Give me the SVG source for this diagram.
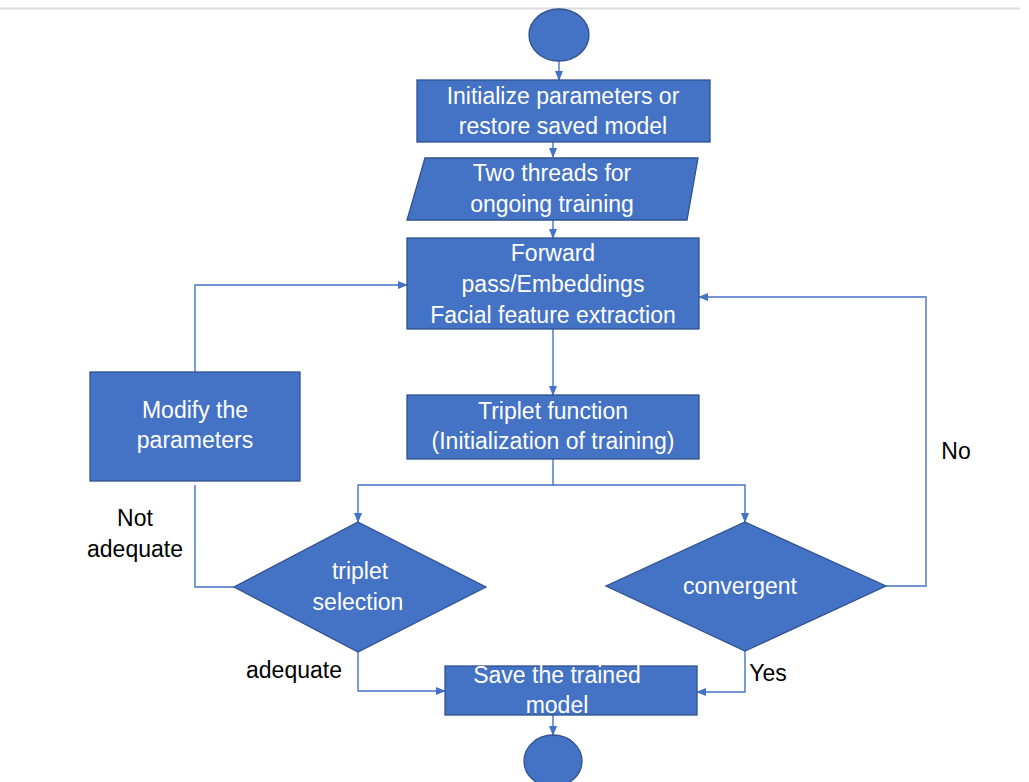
<svg xmlns="http://www.w3.org/2000/svg" width="1029" height="782" viewBox="0 0 1029 782">
<style>
.n{fill:#4472C4;stroke:#2F528F;stroke-width:1.3}
.t{font-family:"Liberation Sans",Arial,sans-serif;font-size:23px;fill:#fff;text-anchor:middle}
.l{font-family:"Liberation Sans",Arial,sans-serif;font-size:23px;fill:#000;text-anchor:middle}
.c{fill:none;stroke:#4472C4;stroke-width:1.4}
</style>
<defs>
<marker id="ah" markerWidth="10" markerHeight="8" refX="9" refY="4" orient="auto" markerUnits="userSpaceOnUse">
<path d="M0,0 L10,4 L0,8 Z" fill="#4472C4"/>
</marker>
</defs>
<rect width="1029" height="782" fill="#fff"/>
<line x1="0" y1="8.5" x2="1020" y2="8.5" stroke="#dcdcdc" stroke-width="2"/>
<g id="connectors">
<path class="c" d="M559,61 V80" marker-end="url(#ah)"/>
<path class="c" d="M553,142 V157" marker-end="url(#ah)"/>
<path class="c" d="M553,220 V238" marker-end="url(#ah)"/>
<path class="c" d="M553,329 V395" marker-end="url(#ah)"/>
<path class="c" d="M195,372 V285 H407" marker-end="url(#ah)"/>
<path class="c" d="M886,586 H926 V297 H699" marker-end="url(#ah)"/>
<path class="c" d="M553,459 V485 H358 V522" marker-end="url(#ah)"/>
<path class="c" d="M553,485 H745 V522" marker-end="url(#ah)"/>
<path class="c" d="M234,587 H195 V485"/>
<path class="c" d="M358,652 V691 H445" marker-end="url(#ah)"/>
<path class="c" d="M745,651 V692 H697" marker-end="url(#ah)"/>
<path class="c" d="M553,715 V735" marker-end="url(#ah)"/>
</g>
<g id="start"><ellipse class="n" cx="559" cy="35" rx="30" ry="26"/></g>
<g id="init">
<rect class="n" x="417" y="80" width="293" height="62"/>
<text class="t" x="563" y="104">Initialize parameters or</text>
<text class="t" x="563" y="134">restore saved model</text>
</g>
<g id="threads">
<polygon class="n" points="425,158 698,158 687,220 407,220"/>
<text class="t" x="552" y="181">Two threads for</text>
<text class="t" x="552" y="212">ongoing training</text>
</g>
<g id="forward">
<rect class="n" x="407" y="238" width="292" height="91"/>
<text class="t" x="553" y="261">Forward</text>
<text class="t" x="553" y="292">pass/Embeddings</text>
<text class="t" x="553" y="323">Facial feature extraction</text>
</g>
<g id="triplet-function">
<rect class="n" x="407" y="395" width="292" height="64"/>
<text class="t" x="553" y="419">Triplet function</text>
<text class="t" x="553" y="449">(Initialization of training)</text>
</g>
<g id="modify">
<rect class="n" x="90" y="372" width="210" height="109"/>
<text class="t" x="195" y="418">Modify the</text>
<text class="t" x="195" y="448">parameters</text>
</g>
<g id="triplet-selection">
<polygon class="n" points="358,522 486,587 358,652 234,587"/>
<text class="t" x="360" y="579">triplet</text>
<text class="t" x="358" y="610">selection</text>
</g>
<g id="convergent">
<polygon class="n" points="745,522 886,586 745,651 606,586"/>
<text class="t" x="740" y="594">convergent</text>
</g>
<g id="save">
<rect class="n" x="445" y="666" width="252" height="49"/>
<text class="t" x="557" y="683">Save the trained</text>
<text class="t" x="557" y="713">model</text>
</g>
<g id="end"><ellipse class="n" cx="553" cy="761" rx="29" ry="26"/></g>
<g id="labels">
<text class="l" x="135" y="526">Not</text>
<text class="l" x="135" y="557">adequate</text>
<text class="l" x="294" y="678">adequate</text>
<text class="l" x="768" y="681">Yes</text>
<text class="l" x="956" y="459">No</text>
</g>
</svg>
